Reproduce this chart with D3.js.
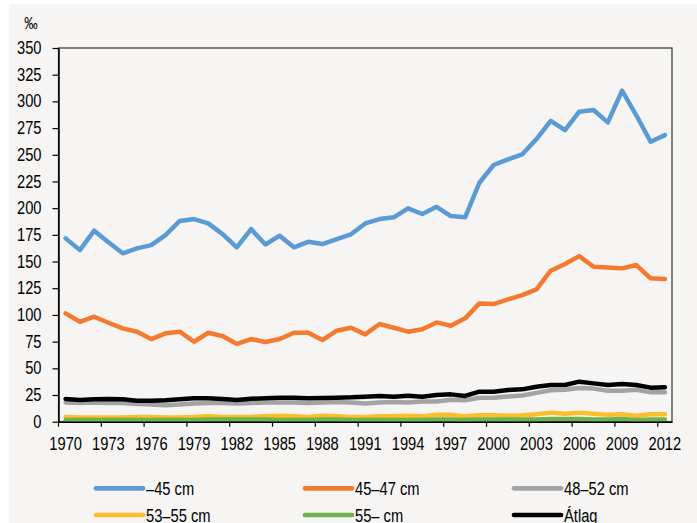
<!DOCTYPE html>
<html>
<head>
<meta charset="utf-8">
<script src="https://cdn.jsdelivr.net/npm/d3@7"></script>
<style>
  html, body { margin: 0; padding: 0; background: #ffffff; }
  svg { display: block; }
  text { font-family: "Liberation Sans", Arial, sans-serif; fill: #000; }
</style>
</head>
<body>
<svg id="chart" width="697" height="523"></svg>
<script>
const years = d3.range(1970, 2013);
const tickYears = [1970,1973,1976,1979,1982,1985,1988,1991,1994,1997,2000,2003,2006,2009,2012];
const yTicks = [0,25,50,75,100,125,150,175,200,225,250,275,300,325,350];

const seriesNames = ["–45 cm", "45–47 cm", "48–52 cm", "53–55 cm", "55– cm", "Átlag"];
const seriesColors = ["#5b9bd5", "#f47a30", "#a3a3a6", "#fdbd2c", "#6cb24f", "#000000"];

const under45 = [171.7,160.7,178.9,168,157.7,162.3,165.4,174.8,188,189.8,185.7,175.7,163.3,180.4,166,174.2,163.3,168.5,166.4,171,175.5,185.7,189.8,191.4,199.8,194.5,201.3,192.6,191.4,223.8,240.4,245.7,250.4,264.7,281.8,273.1,290.3,291.9,280.3,310,287,262.2,268.4];
const s45_47 = [101.5,93.6,98.3,92.7,87.4,84.3,77.4,82.8,84.3,74.9,83.3,80.2,72.8,77.4,74.6,77.4,83.3,83.3,76.5,85.2,88,81.8,91.5,88,84.3,86.5,93,89.9,96.8,110.8,110.2,114.6,118.6,124,141.4,147.7,155.1,145.1,144.5,143.6,146.7,134.3,133.6];
const s48_52 = [18,17.5,18,17.5,17.5,16.5,16,15.5,16,17,17.5,17.5,17,17.5,18,18,18,17.5,18,18.5,18,17,18,18.5,18,19,19,20.5,20,22.5,22.5,23.5,24.5,27,29.5,30,31.5,31,29,29,30,27.5,27.5];
const s53_55 = [4.5,4,4,4,4,4.5,4.5,4,4,4.5,5,4.5,4.5,4.5,5,5.5,5,4.5,5.5,5,4.5,4.5,5,5,5.5,5,6.5,6.5,5,6,6,5.5,6,7,8.5,7.5,8.5,7.5,6.5,7,5.5,7,7];
const s55 = [1.5,1.5,1.5,1.5,1.5,1.5,1.5,1.5,1.5,1.5,2,2,2,2,2,1.5,1.5,1.5,2,2,1.5,1.5,1.5,1.5,1.5,1.5,2,2,1.5,2,2,2,2,2,2.5,2.5,2.5,2,2,2.5,1.5,2,2];
const atlag = [21.3,20.3,21,21.3,21,19.7,19.7,20,21,21.9,21.9,21.3,20.3,21.5,21.9,22.5,22.5,21.9,22.2,22.5,22.8,23.4,24.1,23.4,24.4,23.4,25,25.6,24.1,28.1,28.1,29.7,30.3,32.8,34.4,34.4,37.5,35.9,34.4,35.3,34.4,31.9,32.2];

const seriesValues = [under45, s45_47, s48_52, s53_55, s55, atlag];

const SX = 0.84; // horizontal condensing of text (narrow font look)
const FS = "17.5px";

const svg = d3.select("#chart");

// chart area background
svg.append("rect").attr("x", 9).attr("y", 4).attr("width", 697 - 9).attr("height", 523 - 4)
  .attr("fill", "#f6f5f3");

const pLeft = 58.5, pRight = 672, pTop = 48, pBottom = 421.7;

const x = d3.scaleBand().domain(years).range([pLeft, pRight]).padding(0);
const y = d3.scaleLinear().domain([0, 350]).range([pBottom, pTop]);

// plot frame
svg.append("rect").attr("x", pLeft).attr("y", pTop).attr("width", pRight - pLeft).attr("height", pBottom - pTop)
  .attr("fill", "none").attr("stroke", "#333").attr("stroke-width", 1.2);

// lines
const line = d3.line()
  .x((d, i) => x(years[i]) + x.bandwidth() / 2)
  .y(d => y(d));

svg.append("g").selectAll("path")
  .data(seriesValues)
  .join("path")
  .attr("d", d => line(d))
  .attr("fill", "none")
  .attr("stroke", (d, i) => seriesColors[i])
  .attr("stroke-width", 4.5)
  .attr("stroke-linejoin", "round")
  .attr("stroke-linecap", "round");

// y axis
const yAxis = svg.append("g")
  .attr("transform", `translate(${pLeft},0)`)
  .call(d3.axisLeft(y).tickValues(yTicks).tickSize(6).tickPadding(11).tickSizeOuter(0));
yAxis.select(".domain").attr("stroke", "#000").attr("stroke-width", 1.5);
yAxis.selectAll(".tick line").attr("stroke", "#000").attr("stroke-width", 1.2);
yAxis.selectAll("text").style("font-size", FS).attr("fill", "#000")
  .attr("x", -17 / SX).attr("transform", `scale(${SX},1)`);

// x axis: labels at band centers, ticks at band boundaries
const xAxis = svg.append("g")
  .attr("transform", `translate(0,${pBottom})`)
  .call(d3.axisBottom(x).tickValues(tickYears).tickSize(0).tickPadding(16).tickSizeOuter(0));
xAxis.select(".domain").attr("stroke", "#000").attr("stroke-width", 1.5);
xAxis.selectAll("text").style("font-size", FS).attr("fill", "#000")
  .attr("transform", `scale(${SX},1)`);

svg.append("g").selectAll("line")
  .data(tickYears)
  .join("line")
  .attr("x1", d => x(d)).attr("x2", d => x(d))
  .attr("y1", pBottom).attr("y2", pBottom + 5)
  .attr("stroke", "#000").attr("stroke-width", 1.2);

// unit label
svg.append("text").attr("transform", `translate(31,29) scale(${SX},1)`).attr("text-anchor", "middle")
  .style("font-size", "16px").text("‰");

// legend
const legendCols = [96, 305, 514];
const legendRows = [488.3, 515];
const legend = svg.append("g").selectAll("g")
  .data(seriesNames)
  .join("g")
  .attr("transform", (d, i) => `translate(${legendCols[i % 3]},${legendRows[Math.floor(i / 3)]})`);
legend.append("line")
  .attr("x1", 0).attr("x2", 47).attr("y1", 0).attr("y2", 0)
  .attr("stroke", (d, i) => seriesColors[i])
  .attr("stroke-width", 4.7)
  .attr("stroke-linecap", "round");
legend.append("text")
  .attr("transform", `translate(50,7) scale(${SX},1)`)
  .style("font-size", FS)
  .text(d => d);
</script>
</body>
</html>
